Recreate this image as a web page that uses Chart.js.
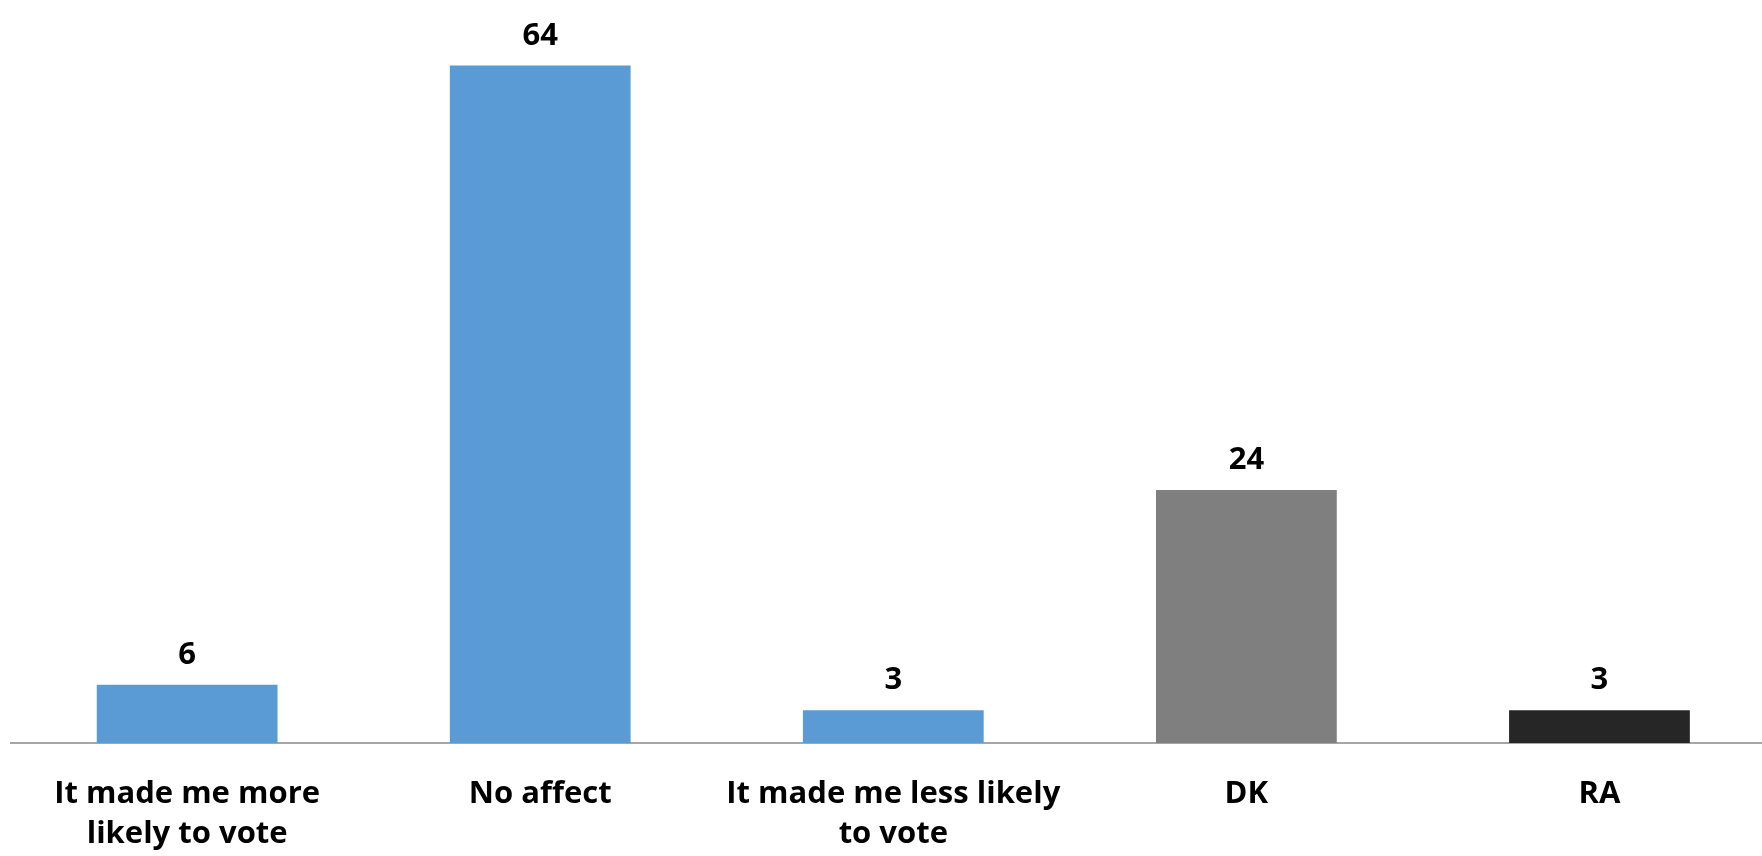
<!DOCTYPE html>
<html>
<head>
<meta charset="utf-8">
<script src="https://cdn.jsdelivr.net/npm/chart.js@4/dist/chart.umd.min.js"></script>
<style>
  html, body { margin: 0; padding: 0; background: #ffffff; overflow: hidden; width: 1762px; height: 856px; }
  #wrap { position: absolute; left: 0; top: 0; width: 1776px; height: 856px; }
</style>
</head>
<body>
<div id="wrap"><canvas id="c" width="1776" height="856"></canvas></div>
<script>
const categories = [
  ['It made me more', 'likely to vote'],
  'No affect',
  ['It made me less likely', 'to vote'],
  'DK',
  'RA'
];
const values = [5.5, 64, 3.1, 23.9, 3.1];
const valueLabels = ['6', '64', '3', '24', '3'];
const barColors = ['#5B9BD5', '#5B9BD5', '#5B9BD5', '#7F7F7F', '#262626'];

const FONT = '"Open Sans", "Liberation Sans", sans-serif';

const valueLabelPlugin = {
  id: 'valueLabels',
  afterDatasetsDraw(chart) {
    const ctx = chart.ctx;
    const meta = chart.getDatasetMeta(0);
    ctx.save();
    ctx.font = 'bold 31px ' + FONT;
    ctx.fillStyle = '#000000';
    ctx.textAlign = 'center';
    ctx.textBaseline = 'alphabetic';
    meta.data.forEach((bar, i) => {
      ctx.fillText(valueLabels[i], bar.x, bar.y - 21);
    });
    ctx.restore();
  }
};

new Chart(document.getElementById('c'), {
  type: 'bar',
  data: {
    labels: categories,
    datasets: [{
      data: values,
      backgroundColor: barColors,
      borderWidth: 0,
      barPercentage: 1,
      categoryPercentage: 0.512
    }]
  },
  options: {
    responsive: false,
    devicePixelRatio: 1,
    animation: false,
    layout: { padding: { left: 10.6, right: 0, top: 0, bottom: 0 } },
    plugins: {
      legend: { display: false },
      tooltip: { enabled: false },
      title: { display: false }
    },
    scales: {
      x: {
        position: 'bottom',
        grid: { display: false, drawTicks: false },
        border: { display: true, color: '#A6A6A6', width: 2 },
        ticks: {
          color: '#000000',
          font: { family: FONT, size: 31, weight: 'bold', lineHeight: 1.3 },
          padding: 31,
          maxRotation: 0,
          minRotation: 0,
          autoSkip: false
        },
        afterFit(scale) { scale.height = 113; }
      },
      y: {
        display: false,
        min: 0,
        max: 70.2
      }
    }
  },
  plugins: [valueLabelPlugin]
});
</script>
</body>
</html>
